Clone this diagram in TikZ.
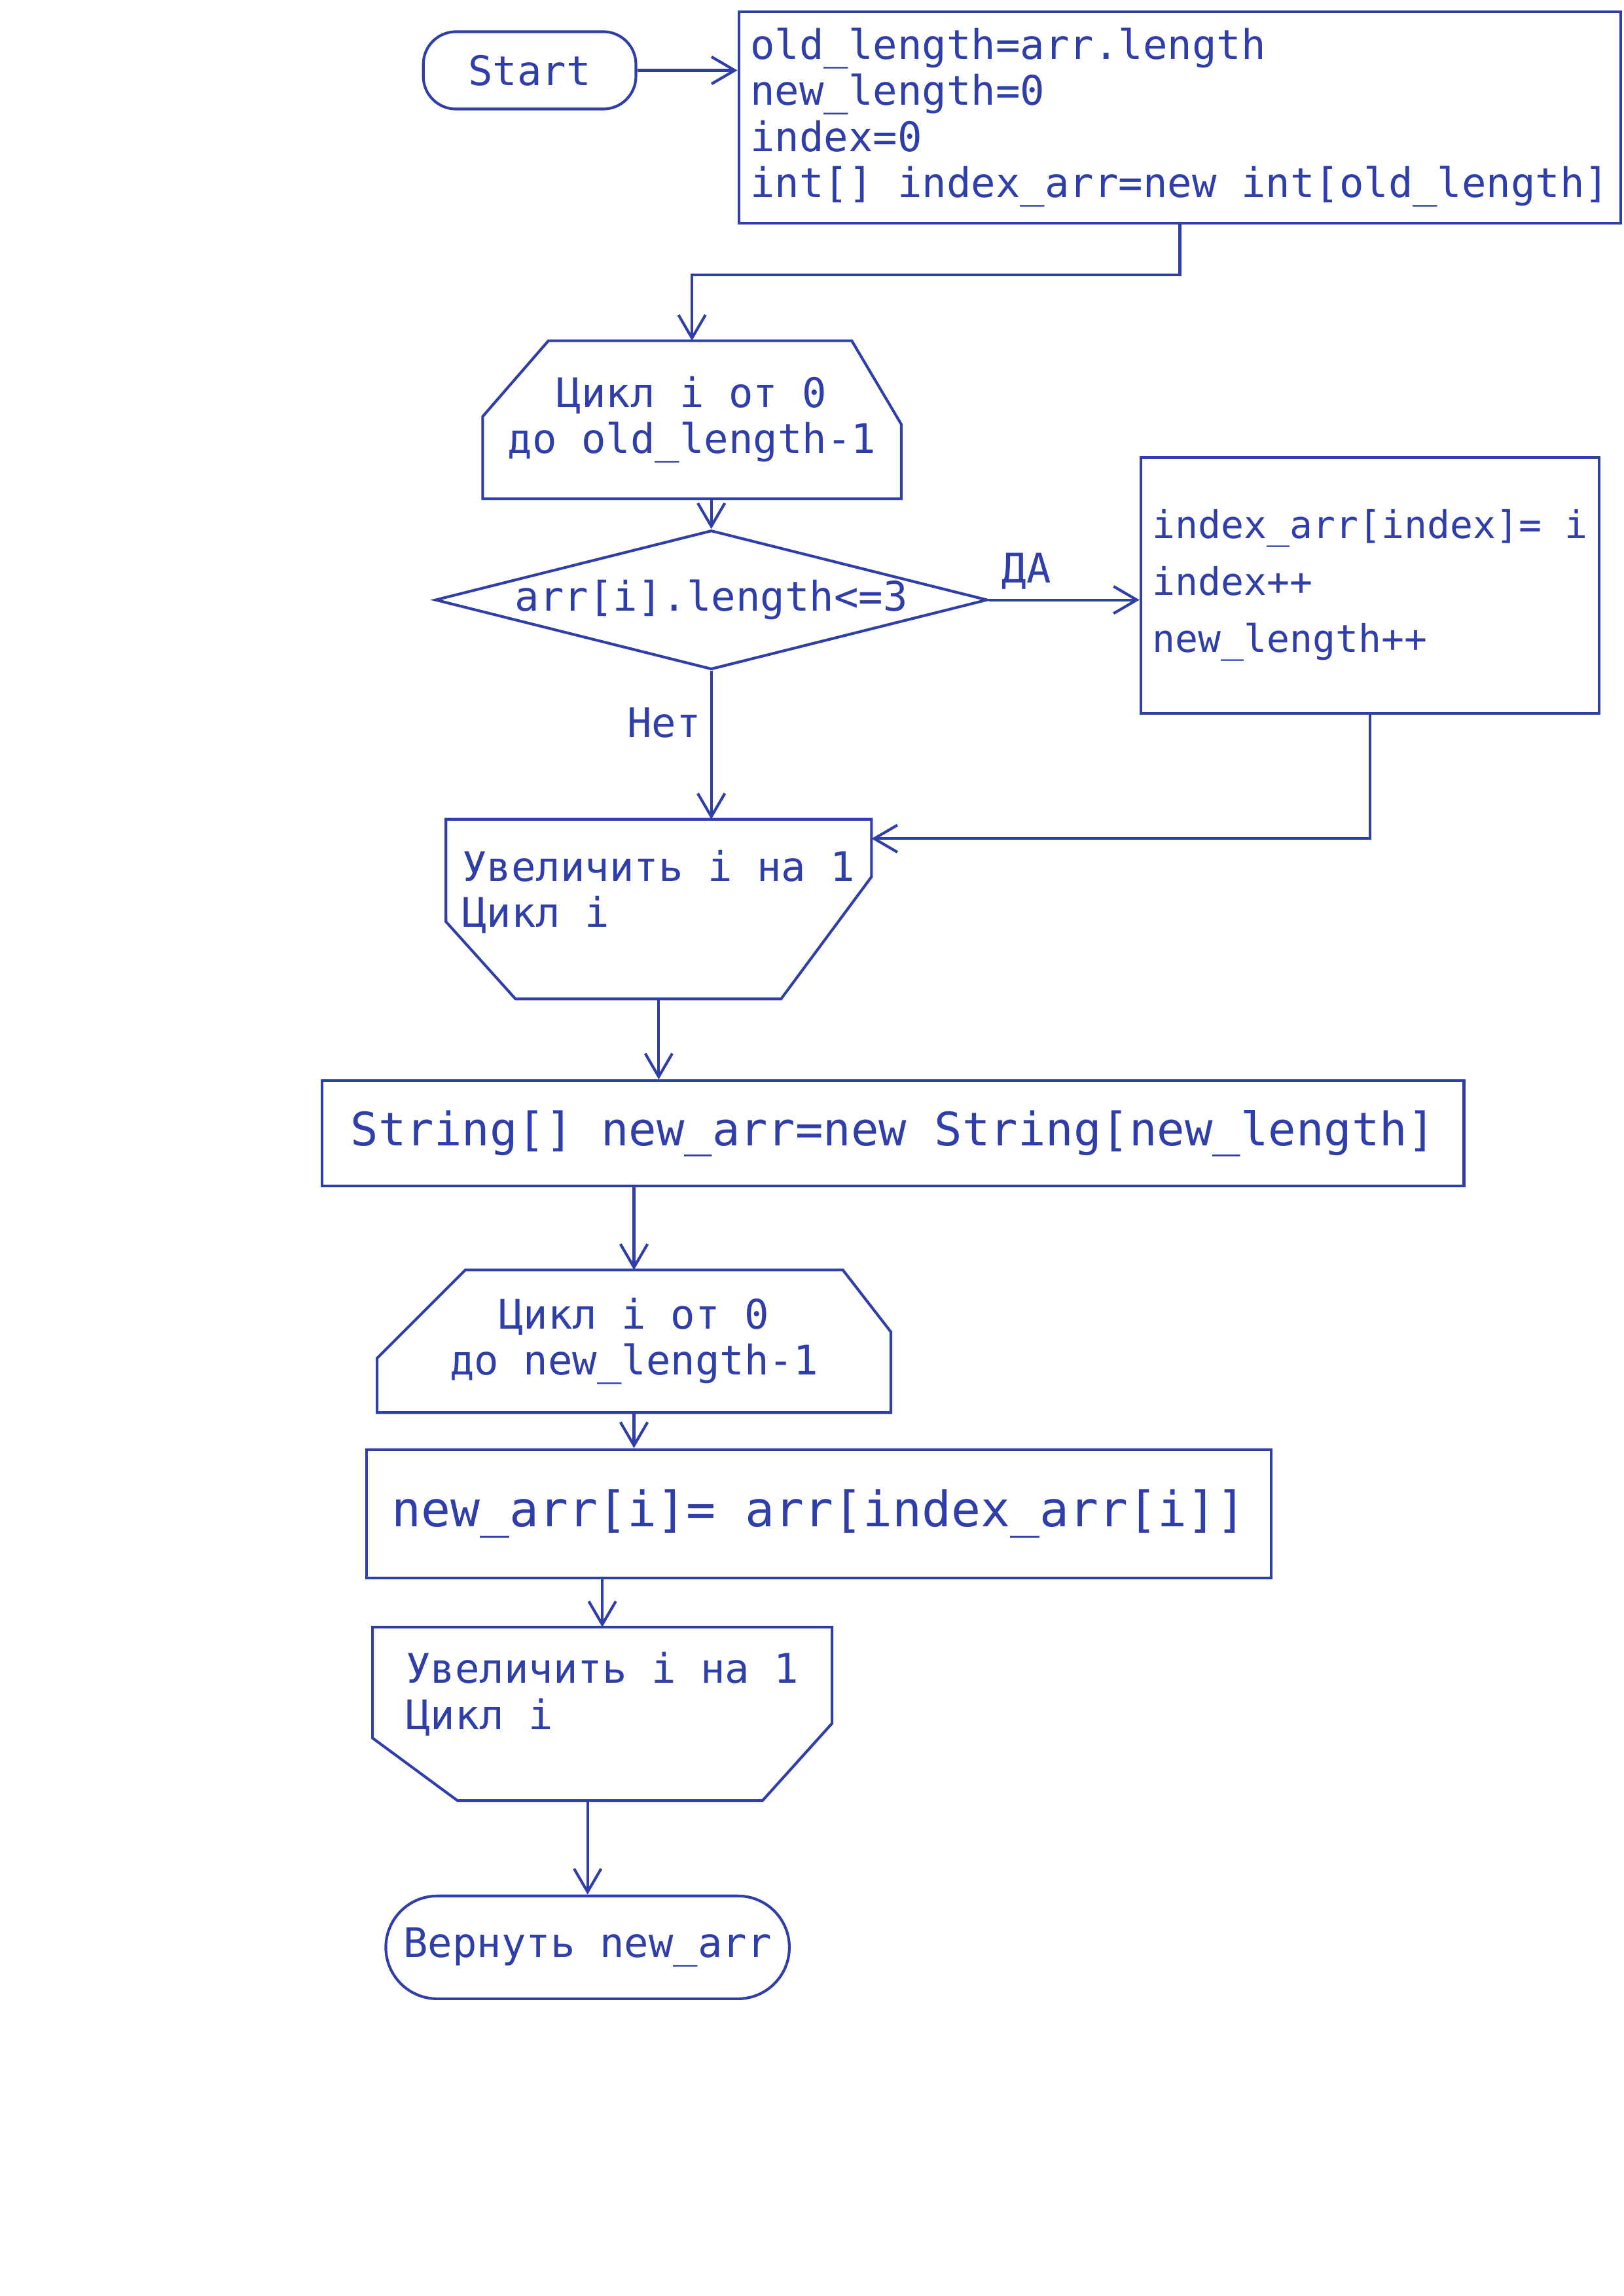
\documentclass[tikz,border=0pt]{standalone}
\usepackage{fontspec}
\setmonofont{DejaVu Sans Mono}
\usepackage{xcolor}
\usepackage{tikz}
\usetikzlibrary{arrows.meta,positioning,shapes.geometric,shapes.misc}
\definecolor{ink}{RGB}{48,62,170}

\begin{document}
\begin{tikzpicture}[
  font=\ttfamily\fontsize{15}{17}\selectfont,
  every node/.style={text=ink},
  terminal/.style={draw=ink, line width=1pt, rounded corners=12pt,
    minimum width=2.75cm, minimum height=1cm},
  stopper/.style={draw=ink, line width=1pt, rounded rectangle,
    minimum width=5.36cm, minimum height=1.33cm, inner xsep=2pt},
  process/.style={draw=ink, line width=1pt, align=left, inner xsep=1.5mm},
  loopbox/.style={rectangle, inner sep=1mm},
  outline/.style={draw=ink, line width=1pt},
  decision/.style={draw=ink, line width=1pt, diamond, aspect=4, inner sep=0pt,
    minimum width=7.14cm, minimum height=1.8cm},
  flow/.style={-{Straight Barb[length=3mm,width=3.5mm]}, line width=1pt, draw=ink}
]
\useasboundingbox (0,0) rectangle (21,-29.7);
\node[terminal] (start) at (6.85,-0.91) {Start};
\node[process, minimum width=11.3cm, minimum height=2.73cm] (init) at (15.26,-1.52)
  {old\_length=arr.length\\new\_length=0\\index=0\\int[] index\_arr=new int[old\_length]};
\node[loopbox, align=center, minimum width=5.4cm, minimum height=2.03cm] (loopa) at (8.95,-5.43)
  {Цикл i от 0\\до old\_length-1};
\node[decision] (cond) at (9.2,-7.76) {arr[i].length<=3};
\node[process, font=\ttfamily\fontsize{14}{21}\selectfont,
  minimum width=5.83cm, minimum height=3.31cm] (act) at (17.72,-7.57)
  {index\_arr[index]= i\\index++\\new\_length++};
\node[loopbox, align=left, minimum width=5.49cm, minimum height=2.31cm] (loopc) at (8.52,-11.76)
  {Увеличить i на 1\\Цикл i\\[-0.07cm]};
\node[process, font=\ttfamily\fontsize{17}{20}\selectfont,
  minimum width=14.77cm, minimum height=1.36cm] (strbox) at (11.55,-14.66)
  {String[] new\_arr=new String[new\_length]};
\node[loopbox, align=center, minimum width=6.63cm, minimum height=1.83cm] (loopd) at (8.2,-17.35)
  {Цикл i от 0\\до new\_length-1};
\node[process, font=\ttfamily\fontsize{18}{21}\selectfont,
  minimum width=11.7cm, minimum height=1.66cm] (assign) at (10.59,-19.58)
  {new\_arr[i]= arr[index\_arr[i]]};
\node[loopbox, align=left, minimum width=5.93cm, minimum height=2.23cm] (loope) at (7.79,-22.17)
  {Увеличить i на 1\\Цикл i\\[0pt]};
\node[stopper] (stop) at (7.6,-25.19) {Вернуть new\_arr};

\draw[outline] ([xshift=0.85cm]loopa.north west) -- ([xshift=-0.64cm]loopa.north east)
  -- ([yshift=-1.08cm]loopa.north east) -- (loopa.south east) -- (loopa.south west)
  -- ([yshift=-0.98cm]loopa.north west) -- cycle;
\draw[outline] (loopc.north west) -- (loopc.north east) -- ([yshift=1.58cm]loopc.south east)
  -- ([xshift=-1.17cm]loopc.south east) -- ([xshift=0.9cm]loopc.south west)
  -- ([yshift=1cm]loopc.south west) -- cycle;
\draw[outline] ([xshift=1.14cm]loopd.north west) -- ([xshift=-0.62cm]loopd.north east)
  -- ([yshift=-0.8cm]loopd.north east) -- (loopd.south east) -- (loopd.south west)
  -- ([yshift=-1.14cm]loopd.north west) -- cycle;
\draw[outline] (loope.north west) -- (loope.north east) -- ([yshift=1cm]loope.south east)
  -- ([xshift=-0.9cm]loope.south east) -- ([xshift=1.1cm]loope.south west)
  -- ([yshift=0.81cm]loope.south west) -- cycle;

\draw[flow] (start) -- (start -| init.west);
\draw[flow] (init.south) -- ++(0,-0.65) -| (loopa.north);
\draw[flow] (loopa.south -| cond.north) -- (cond.north);
\draw[flow] (cond.east) -- node[above, pos=0.25]{ДА} (cond.east -| act.west);
\draw[flow] (act.south) |- ([yshift=-0.25cm]loopc.north east);
\draw[flow] (cond.south) -- node[left, pos=0.35]{Нет} (cond.south |- loopc.north);
\draw[flow] (loopc.south) -- (loopc.south |- strbox.north);
\draw[flow] (strbox.south -| loopd.north) -- (loopd.north);
\draw[flow] (loopd.south) -- (loopd.south |- assign.north);
\draw[flow] (assign.south -| loope.north) -- (loope.north);
\draw[flow] (loope.south -| stop.north) -- (stop.north);
\end{tikzpicture}
\end{document}
